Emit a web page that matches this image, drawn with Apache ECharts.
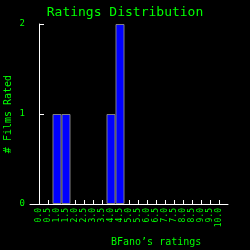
<!DOCTYPE html>
<html><head><meta charset="utf-8">
<script src="https://cdn.jsdelivr.net/npm/echarts@6/dist/echarts.min.js"></script>
<style>html,body{margin:0;padding:0;background:#000}#c{width:250px;height:250px}</style>
</head><body><div id="c"></div>
<script>
const ratings = [0.0,0.5,1.0,1.5,2.0,2.5,3.0,3.5,4.0,4.5,5.0,5.5,6.0,6.5,7.0,7.5,8.0,8.5,9.0,9.5,10.0];
const counts  = [0,0,1,1,0,0,0,0,1,2,0,0,0,0,0,0,0,0,0,0,0];
const yTicks = [0,1,2];
const titleText = 'Ratings Distribution';
const xName = 'BFano\u2019s ratings';
const yName = '# Films Rated';

const mono = 'DejaVu Sans Mono';
const green = '#00ff00';
const chart = echarts.init(document.getElementById('c'), null, {renderer:'canvas'});
chart.setOption({
  backgroundColor:'#000',
  animation:false,
  title:{text:titleText,left:'center',top:1,textStyle:{color:green,fontFamily:mono,fontSize:13,fontWeight:'normal'}},
  grid:{left:30,right:22,top:24,bottom:46,containLabel:false,outerBoundsMode:'none'},
  xAxis:{type:'value',min:-0.5,max:10.5,interval:0.5,
    axisLine:{lineStyle:{color:'#fff',width:1}},
    axisTick:{inside:true,length:4,lineStyle:{color:'#fff'},customValues:ratings},
    axisLabel:{rotate:90,color:green,fontFamily:mono,fontSize:8,margin:4,customValues:ratings,hideOverlap:false,formatter:v=>Number(v).toFixed(1)},
    splitLine:{show:false}},
  yAxis:{type:'value',min:0,max:2,interval:1,
    axisLine:{show:true,lineStyle:{color:'#fff',width:1}},
    axisTick:{show:true,inside:true,length:5,lineStyle:{color:'#fff'}},
    axisLabel:{color:green,fontFamily:mono,fontSize:9,margin:5,customValues:yTicks},
    splitLine:{show:false},
    name:yName,nameLocation:'middle',nameGap:17,nameRotate:90,nameMoveOverlap:false,
    nameTextStyle:{color:green,fontFamily:mono,fontSize:10}},
  graphic:[{type:'text',left:111,top:237,style:{text:xName,fill:green,font:'10px "DejaVu Sans Mono"'}}],
  series:[{type:'bar',barWidth:9,
    data:ratings.map((r,i)=>[r,counts[i]]).filter(d=>d[1]>0),
    itemStyle:{color:'#0000ff',borderColor:'#808080',borderWidth:1}}]
});
</script></body></html>
